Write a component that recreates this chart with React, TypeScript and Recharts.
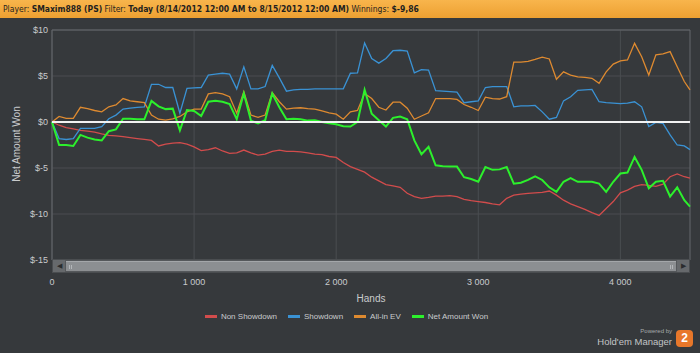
import { LineChart, Line, XAxis, YAxis, CartesianGrid, ReferenceLine, ReferenceArea } from "recharts";

// hands played (x axis)
const hands = [
    0, 50, 100, 150, 200, 250, 300, 350, 400, 450,
    500, 550, 600, 650, 700, 750, 800, 850, 900, 950,
    1000, 1050, 1100, 1150, 1200, 1250, 1300, 1350, 1400, 1450,
    1500, 1550, 1600, 1650, 1700, 1750, 1800, 1850, 1900, 1950,
    2000, 2050, 2100, 2150, 2200, 2250, 2300, 2350, 2400, 2450,
    2500, 2550, 2600, 2650, 2700, 2750, 2800, 2850, 2900, 2950,
    3000, 3050, 3100, 3150, 3200, 3250, 3300, 3350, 3400, 3450,
    3500, 3550, 3600, 3650, 3700, 3750, 3800, 3850, 3900, 3950,
    4000, 4050, 4100, 4150, 4200, 4250, 4300, 4350, 4400, 4450,
    4490,
];

const nonShowdown = [
    0, -0.35, -0.6, -0.75, -0.9, -1.0, -1.1, -1.3, -1.45, -1.5,
    -1.6, -1.7, -1.8, -1.9, -2.0, -2.6, -2.4, -2.3, -2.25, -2.4,
    -2.7, -3.1, -3.0, -2.8, -3.15, -3.4, -3.35, -3.05, -3.35, -3.6,
    -3.5, -3.2, -3.05, -3.2, -3.2, -3.25, -3.35, -3.5, -3.55, -3.75,
    -3.85, -4.4, -4.85, -5.15, -5.45, -6.0, -6.4, -6.8, -6.95, -7.1,
    -7.75, -8.1, -8.3, -8.2, -8.05, -8.05, -8.0, -8.1, -8.4, -8.55,
    -8.65, -8.75, -8.9, -9.0, -8.3, -7.95, -7.85, -7.75, -7.7, -7.65,
    -7.5, -7.95, -8.5, -8.9, -9.2, -9.5, -9.85, -10.15, -9.4, -8.65,
    -7.7, -7.4, -7.0, -6.8, -6.9, -7.0, -6.75, -5.95, -5.65, -5.95,
    -6.1,
];

const showdown = [
    0, -1.8, -1.9, -1.8, -0.7, -0.7, -0.7, -0.5, 0.35, 0.75,
    1.4, 1.5, 1.6, 1.65, 4.1, 4.1, 3.75, 3.75, 0.95, 3.65,
    3.7, 3.75, 5.1, 5.2, 5.3, 5.2, 3.6, 6.0, 3.6, 3.6,
    3.85, 6.15, 4.8, 3.35, 3.5, 3.55, 3.55, 3.6, 3.6, 3.6,
    3.6, 3.6, 5.3, 5.35, 8.6, 6.9, 6.4, 6.9, 7.75, 7.8,
    7.7, 5.35, 5.7, 5.65, 3.4, 3.35, 3.3, 3.25, 2.1, 2.2,
    2.3, 3.75, 3.85, 3.85, 3.85, 1.65, 1.75, 1.75, 1.8, 1.1,
    0.3, 0.5, 2.3, 2.75, 3.45, 3.5, 3.55, 2.2, 2.1, 2.05,
    2.0, 2.05, 2.2, 1.65, -0.5, -0.05, -0.15, -1.4, -2.5, -2.6,
    -3.0,
];

const allInEv = [
    0, 0.6, 0.4, 0.4, 1.6, 1.45, 1.25, 1.1, 1.65, 1.85,
    2.55, 2.3, 2.2, 2.1, 0.75, 0.3, 0.2, 0.35, 0.6, 1.1,
    1.4, 1.4, 3.05, 3.2, 3.05, 2.75, 0.95, 3.3, 0.75, 0.5,
    0.75, 3.2, 2.2, 1.4, 1.5, 1.55, 1.45, 1.4, 1.2, 1.0,
    0.85, 0.3, 1.1, 1.25, 3.1, 2.55, 1.6, 1.3, 2.15, 2.15,
    1.5, 0.3, 0.65, 1.0, 2.55, 2.55, 2.55, 2.45, 1.9, 1.6,
    1.25, 2.7, 2.55, 2.5, 2.75, 6.5, 6.5, 6.6, 6.8, 7.05,
    6.85, 4.65, 5.45, 5.1, 4.9, 4.85, 4.75, 4.2, 5.45, 6.3,
    6.65, 6.75, 8.55, 7.1, 5.1, 7.3, 7.4, 7.65, 6.0, 4.4,
    3.5,
];

const netWon = [
    0, -2.5, -2.5, -2.6, -1.4, -1.7, -1.9, -2.0, -1.0, -0.8,
    0.35, 0.35, 0.3, 0.3, 2.3, 1.7, 1.4, 1.45, -0.9, 1.3,
    1.2, 0.65, 2.2, 2.3, 2.2, 1.95, 0.3, 3.1, 0.15, -0.15,
    0.2, 3.1, 1.6, 0.3, 0.35, 0.3, 0.15, 0.2, 0, -0.15,
    -0.25, -0.45, -0.5, 0, 3.5, 0.9, 0.2, -0.5, 0.45, 0.6,
    0.3, -2.0, -3.5, -2.7, -4.7, -4.8, -4.85, -4.85, -6.0, -6.2,
    -6.5, -4.9, -5.2, -5.15, -4.9, -6.7, -6.6, -6.3, -5.9, -6.3,
    -7.1, -7.6, -6.5, -6.1, -6.5, -6.5, -6.5, -6.7, -7.6, -6.5,
    -5.6, -5.5, -3.8, -5.2, -7.2, -6.5, -6.4, -8.1, -7.1, -8.5,
    -9.2,
];

const yTicks = [-15, -10, -5, 0, 5, 10];
const xTicks = [0, 1000, 2000, 3000, 4000];
const seriesKeys = ["ns", "sd", "ev", "net"];
const seriesNames = ["Non Showdown", "Showdown", "All-in EV", "Net Amount Won"];
const seriesColors = ["#d24c4c", "#3a92d4", "#de8a30", "#2cf02c"];

const data = hands.map((h, i) => ({
    h,
    ns: nonShowdown[i],
    sd: showdown[i],
    ev: allInEv[i],
    net: netWon[i],
}));

const textColor = "#c9cbcd";

const XTick = (props: any) => (
    <text x={props.x} y={props.y + 25} textAnchor="middle" fontSize={9} fill={textColor}>
        {props.payload.value === 0 ? "0" : `${props.payload.value / 1000} 000`}
    </text>
);

const Scrollbar = () => (
    <div style={{ position: "absolute", left: 52, top: 259, width: 638, height: 14, background: "#55585b", boxSizing: "border-box", border: "1px solid #4a4d50" }}>
        <div style={{ position: "absolute", left: 0, top: 0, width: 12, height: 12, background: "#66696c", color: "#2a2c2e", fontSize: 7, lineHeight: "12px", textAlign: "center" }}>◀</div>
        <div style={{ position: "absolute", left: 13, top: 1, width: 610, height: 10, background: "#8c8f92", borderTop: "1px solid #a4a7aa", boxSizing: "border-box" }}>
            <div style={{ position: "absolute", left: 3, top: 3, width: 1, height: 4, background: "#b3b6b9" }} />
            <div style={{ position: "absolute", left: 5, top: 3, width: 1, height: 4, background: "#b3b6b9" }} />
            <div style={{ position: "absolute", right: 3, top: 3, width: 1, height: 4, background: "#b3b6b9" }} />
            <div style={{ position: "absolute", right: 5, top: 3, width: 1, height: 4, background: "#b3b6b9" }} />
        </div>
        <div style={{ position: "absolute", right: 0, top: 0, width: 12, height: 12, background: "#66696c", color: "#2a2c2e", fontSize: 7, lineHeight: "12px", textAlign: "center" }}>▶</div>
    </div>
);

export default function App() {
    return (
        <div style={{ position: "absolute", left: 0, top: 0, width: 700, height: 353, background: "#36393c", fontFamily: "'Liberation Sans', Arial, sans-serif", overflow: "hidden" }}>
            <div style={{ position: "absolute", left: 0, top: 0, width: 700, height: 18, background: "linear-gradient(#f8b54c, #eda031)", color: "#1f1f1f", fontSize: 8.5, lineHeight: "18px", paddingLeft: 3, whiteSpace: "nowrap", fontFamily: "'Liberation Sans Narrow', 'DejaVu Sans Condensed', 'Liberation Sans', sans-serif" }}>
                Player: <b>SMaxim888 (PS)</b> Filter: <b>Today (8/14/2012 12:00 AM to 8/15/2012 12:00 AM)</b> Winnings: <b>$-9,86</b>
            </div>
            <LineChart width={700} height={353} data={data} margin={{ top: 30, right: 10, left: 0, bottom: 0 }}>
                <CartesianGrid stroke="#4a4d51" strokeWidth={1} verticalValues={xTicks} horizontalValues={yTicks} />
                <XAxis
                    dataKey="h"
                    type="number"
                    domain={[0, 4490]}
                    ticks={xTicks}
                    height={93}
                    axisLine={false}
                    tickLine={false}
                    tickSize={0}
                    tickMargin={0}
                    tick={XTick}
                    label={({ viewBox }: any) => (
                        <text x={viewBox.x + viewBox.width / 2} y={302} textAnchor="middle" fontSize={10} fill={textColor}>
                            Hands
                        </text>
                    )}
                />
                <YAxis
                    type="number"
                    domain={[-15, 10]}
                    ticks={yTicks}
                    width={52}
                    axisLine={false}
                    tickLine={false}
                    tickSize={0}
                    tickMargin={4}
                    tick={{ fontSize: 9, fill: textColor }}
                    tickFormatter={(v: number) => `$${v}`}
                    label={() => (
                        <text x={20} y={144} transform="rotate(-90 20 144)" textAnchor="middle" fontSize={10} fill={textColor}>
                            Net Amount Won
                        </text>
                    )}
                />
                <ReferenceArea x1={0} x2={4490} y1={-15} y2={10} fill="none" stroke="#65686c" strokeWidth={1} />
                {seriesKeys.map((k, i) => (
                    <Line
                        key={k}
                        dataKey={k}
                        name={seriesNames[i]}
                        stroke={seriesColors[i]}
                        strokeWidth={k === "net" ? 2 : 1.3}
                        dot={false}
                        activeDot={false}
                        type="linear"
                        isAnimationActive={false}
                    />
                ))}
                <ReferenceLine y={0} stroke="#f2f2f2" strokeWidth={2} />
            </LineChart>
            <Scrollbar />
            <div style={{ position: "absolute", left: 0, top: 312, width: 700, display: "flex", justifyContent: "center", gap: 11, paddingRight: 7, boxSizing: "border-box", fontSize: 8, color: textColor }}>
                {seriesNames.map((n, i) => (
                    <div key={n} style={{ display: "flex", alignItems: "center", gap: 4 }}>
                        <div style={{ width: 12, height: 3, background: seriesColors[i] }} />
                        <span>{n}</span>
                    </div>
                ))}
            </div>
            <div style={{ position: "absolute", right: 28, top: 328, fontSize: 6, color: "#a7a9ab", textAlign: "right" }}>Powered by</div>
            <div style={{ position: "absolute", right: 28, top: 336, fontSize: 9.5, color: "#c3c5c7", textAlign: "right", whiteSpace: "nowrap" }}>Hold'em Manager</div>
            <div style={{ position: "absolute", left: 676, top: 330, width: 17, height: 17, borderRadius: 4, background: "#e8772a", color: "#fff", fontWeight: "bold", fontSize: 12, lineHeight: "17px", textAlign: "center" }}>2</div>
        </div>
    );
}
